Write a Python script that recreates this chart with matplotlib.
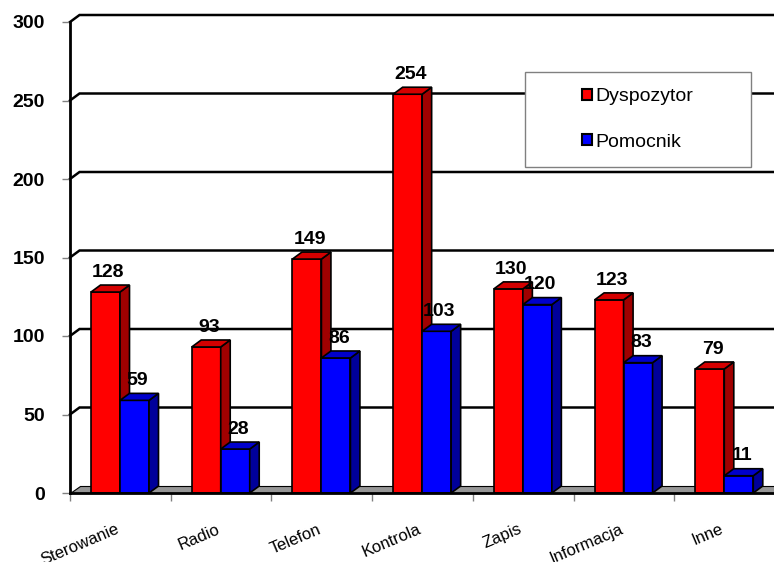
import matplotlib
matplotlib.use("Agg")
import matplotlib.pyplot as plt
from matplotlib.patches import Polygon, Rectangle, Patch
import numpy as np

categories = ["Sterowanie", "Radio", "Telefon", "Kontrola", "Zapis", "Informacja", "Inne"]
dyspozytor = [128, 93, 149, 254, 130, 123, 79]
pomocnik = [59, 28, 86, 103, 120, 83, 11]
series_names = ["Dyspozytor", "Pomocnik"]
yticks = [0, 50, 100, 150, 200, 250, 300]

plt.rcParams['font.family'] = ['Liberation Sans', 'DejaVu Sans']

W, H = 774, 562
fig = plt.figure(figsize=(W / 100, H / 100), dpi=100)
ax = fig.add_axes([70 / W, (H - 493) / H, 705 / W, 471 / H])
n = len(categories)
ymax = yticks[-1]
ax.set_xlim(0, n)
ax.set_ylim(0, ymax)
for s in ax.spines.values():
    s.set_visible(False)
ax.patch.set_visible(False)

ppx = 705 / n
ppy = 471 / ymax
dx = 9.5 / ppx
dy = 7.0 / ppy
bw = 29 / ppx
off = 21 / ppx

# back wall gridlines
for v in yticks[1:]:
    ax.plot([0, dx, n + dx], [v, v + dy, v + dy], color='black', lw=1.8,
            zorder=1, clip_on=False, solid_joinstyle='miter')

# floor
floor = Polygon([(0, 0), (n + dx, 0), (n + dx, dy), (dx, dy)], closed=True,
                facecolor='#969696', edgecolor='black', lw=0.8, zorder=1.5,
                clip_on=False)
ax.add_patch(floor)

styles = [
    dict(front='#FF0000', top='#D40000', side='#A00000'),
    dict(front='#0000FF', top='#0000CC', side='#00009A'),
]


def draw_series(values, k):
    st = styles[k]
    xs = np.arange(n) + off + k * bw
    ax.bar(xs, values, width=bw, align='edge', color=st['front'],
           edgecolor='black', lw=1.2, zorder=3 + k, clip_on=False)
    for x0, v in zip(xs, values):
        x1 = x0 + bw
        top = Polygon([(x0, v), (x1, v), (x1 + dx, v + dy), (x0 + dx, v + dy)],
                      closed=True, facecolor=st['top'], edgecolor='black',
                      lw=1.2, zorder=3 + k, clip_on=False)
        side = Polygon([(x1, 0), (x1 + dx, dy), (x1 + dx, v + dy), (x1, v)],
                       closed=True, facecolor=st['side'], edgecolor='black',
                       lw=1.2, zorder=3 + k, clip_on=False)
        ax.add_patch(side)
        ax.add_patch(top)
        ax.annotate(str(v), (x0 + bw / 2 + dx * 0.3, v + dy), xytext=(0, 6),
                    textcoords='offset points', ha='center', va='baseline',
                    fontsize=14, fontweight='bold', zorder=10)


draw_series(dyspozytor, 0)
draw_series(pomocnik, 1)

# axis lines
ax.plot([0, 0], [0, ymax], color='black', lw=2, zorder=6, clip_on=False)
ax.plot([0, n + dx], [0, 0], color='black', lw=2, zorder=6, clip_on=False)

# ticks
ax.set_yticks(yticks)
ax.set_yticklabels([str(t) for t in yticks])
ax.tick_params(axis='y', length=6, color='#808080', width=1, labelsize=14, pad=12)
for lab in ax.get_yticklabels():
    lab.set_fontweight('bold')

ax.set_xticks(np.arange(n + 1))
ax.set_xticklabels([])
ax.tick_params(axis='x', which='major', length=6, color='#808080', width=1)
ax.set_xticks(np.arange(n) + 0.5, minor=True)
ax.set_xticklabels(categories, minor=True, rotation=23, ha='right',
                   va='baseline', rotation_mode='anchor', fontsize=12)
ax.tick_params(axis='x', which='minor', length=0, pad=28.5)

# legend
frame = Rectangle((525 / W, 1 - 167 / H), 226 / W, 95 / H, transform=fig.transFigure,
                  facecolor='white', edgecolor='#808080', lw=1, zorder=20, clip_on=False)
ax.add_patch(frame)
handles = [Patch(facecolor=styles[i]['front'], edgecolor='black', lw=1.5)
           for i in range(2)]
leg = ax.legend(handles, series_names, loc='center',
                bbox_to_anchor=(638 / W, 1 - 119.5 / H), bbox_transform=fig.transFigure,
                frameon=False, fontsize=14, handlelength=0.5, handleheight=0.5,
                handletextpad=0.2, labelspacing=1.45)
leg.set_zorder(21)

fig.savefig('out.png', dpi=100)
